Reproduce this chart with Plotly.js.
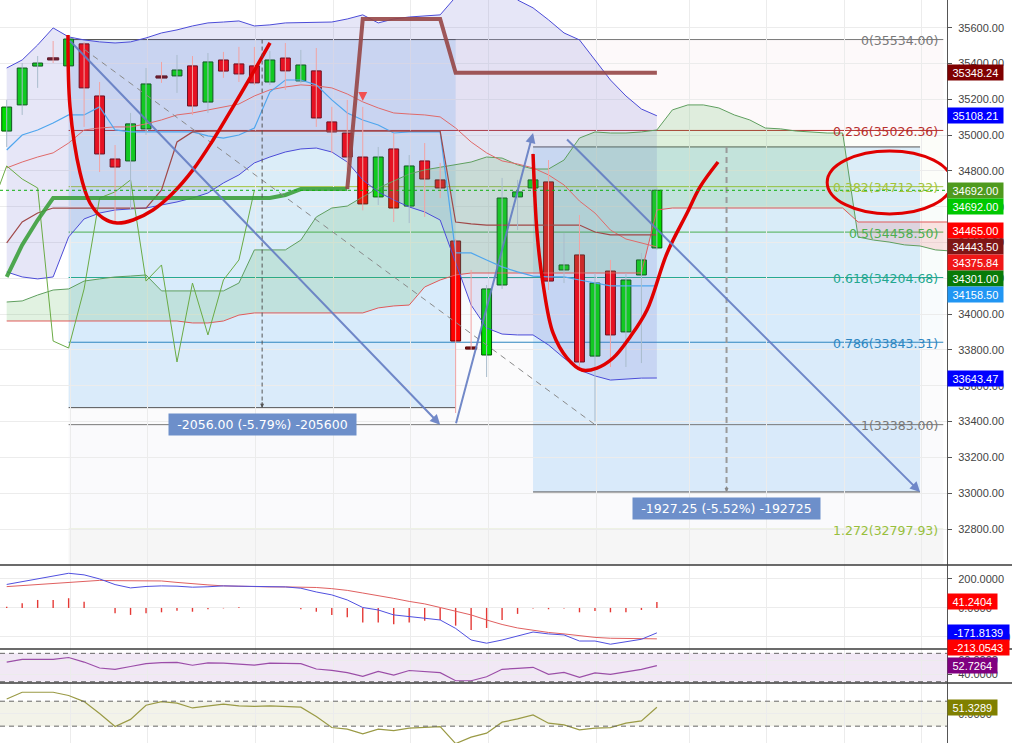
<!DOCTYPE html>
<html>
<head>
<meta charset="utf-8">
<script src="https://cdn.plot.ly/plotly-3.0.1.min.js"></script>
<style>
html,body{margin:0;padding:0;background:#ffffff;overflow:hidden;}
#chart{width:1012px;height:743px;}
</style>
</head>
<body>
<div id="chart"></div>
<script>
// ================= DATA =================
// OHLC candles (index 0..42)
const openP  = [35023,35169,35386,35426,35387,35510,35219,34867,34856,35035,35325,35331,35387,35185,35420,35398,35387,35297,35431,35303,35359,35074,35012,34878,34655,34923,34604,34856,34750,34409,33811,33772,34163,34655,34705,34739,34247,34331,33766,34241,33901,34219,34370];
const highP  = [35197,35403,35442,35526,35560,35520,35297,34945,35124,35375,35409,35448,35442,35459,35465,35493,35493,35470,35515,35476,35487,35158,35197,35158,34934,35012,34889,34956,34845,34420,34247,34163,34761,34750,34900,34861,34454,34554,34230,34303,34230,34342,34710];
const lowP   = [34934,35113,35264,35403,35330,35046,34794,34509,34582,35001,35292,35236,35113,35124,35320,35297,35280,35280,35253,35290,35046,34900,34806,34580,34610,34515,34509,34543,34649,33448,33800,33649,34141,34470,34655,34135,34174,33688,33400,33705,33705,33727,34360];
const closeP = [35157,35375,35403,35426,35537,35264,34895,34822,35063,35286,35325,35364,35163,35409,35358,35342,35292,35420,35359,35392,35096,35018,34878,34616,34878,34593,34828,34755,34705,33850,33811,34141,34649,34683,34750,34185,34275,33733,34174,33884,34191,34303,34692];

// Bollinger bands
const bbUpper = [35375,35420,35504,35599,35549,35532,35521,35515,35521,35543,35571,35588,35610,35627,35632,35638,35610,35616,35627,35630,35632,35632,35649,35672,35627,35649,35660,35666,35672,35772,35867,35923,35867,35755,35711,35644,35571,35532,35420,35308,35219,35146,35108.21];
const bbMid   = [34817,34850,34878,34901,34956,35029,35040,35046,35046,35063,35085,35113,35124,35141,35158,35174,35219,35253,35269,35281,35275,35264,35230,35186,35152,35124,35118,35113,35102,35040,34962,34901,34856,34839,34817,34778,34722,34632,34565,34470,34420,34398,34375.84];
const bbLower = [34236,34208,34197,34208,34431,34532,34565,34582,34588,34593,34610,34627,34649,34677,34733,34778,34845,34878,34906,34923,34928,34906,34850,34750,34683,34638,34599,34571,34526,34292,34051,33923,33889,33884,33884,33828,33755,33688,33655,33632,33638,33643,33643.47];

// Ichimoku lines
const convLine = [34917,35001,35029,35068,35113,35113,35158,35029,35018,35018,35018,35018,35018,34996,34984,35001,35040,35241,35308,35308,35281,35197,35124,35085,35057,35012,35018,35018,35018,34342,34342,34303,34264,34236,34213,34208,34208,34191,34174,34158.5,34158.5,34158.5,34158.5];
const baseLine = [34398,34515,34565,34593,34593,34593,34593,34593,34593,34593,34694,34962,35018,35023,35023,35023,35023,35023,35023,35023,35023,35023,35023,35023,35023,35023,35023,35023,35023,34515,34504,34498,34498,34498,34498,34498,34498,34498,34459,34443.5,34443.5,34443.5,34443.5];
// leading spans (index 0..61, projected ahead of last candle)
const spanA = [34068,34074,34107,34135,34141,34185,34197,34208,34213,34219,34130,34130,34130,34130,34130,34174,34359,34359,34359,34414,34543,34593,34604,34655,34705,34744,34783,34806,34822,34834,34850,34878,34872,34834,34811,34811,34861,34984,35018,35012,35012,35018,35029,35141,35169,35169,35152,35113,35085,35040,35035,35023,35018,35012,35012,34431,34414,34403,34387,34381,34359,34353];
const spanB = [33962,33962,33962,33962,33962,33962,33962,33962,33962,33962,33962,33962,33951,33951,33962,33995,34007,34007,34007,34007,34007,34007,34007,34007,34035,34046,34051,34152,34191,34219,34230,34230,34230,34230,34230,34230,34230,34230,34230,34230,34230,34230,34582,34593,34593,34593,34593,34593,34593,34593,34593,34593,34593,34593,34593,34515,34515,34515,34515,34515,34515,34515];
const chikouLag = 26;

// trailing stop line (thick) and its trend state
const trailStop  = [34208,34387,34526,34649,34649,34649,34649,34649,34649,34649,34649,34649,34649,34649,34649,34649,34649,34649,34666,34699,34699,34699,34699,35649,35649,35649,35649,35649,35649,35348.24,35348.24,35348.24,35348.24,35348.24,35348.24,35348.24,35348.24,35348.24,35348.24,35348.24,35348.24,35348.24,35348.24];
const trailTrend = ['up','up','up','up','up','up','up','up','up','up','up','up','up','up','up','up','up','up','up','up','up','up','up','dn','dn','dn','dn','dn','dn','dn','dn','dn','dn','dn','dn','dn','dn','dn','dn','dn','dn','dn','dn'];
const sellSignalIdx = [23];
const sellSignalPrice = [35191];

// MACD pane
const macdLine = [162,181,202,221,239,228,200,161,138,148,152,150,143,146,152,150,147,147,145,136,110,90,55,3,-14,-48,-62,-71,-83,-141,-221,-243,-221,-193,-166,-179,-186,-228,-228,-250,-232,-216,-171.8139];
const macdSignal = [147,155,162,169,174,183,190,188,188,186,186,176,170,159,152,148,147,145,145,143,141,133,121,103,86,66,45,28,3,-21,-48,-83,-114,-138,-155,-169,-179,-193,-203,-209,-209,-209,-213.0543];
const macdHist = [9,32,55,55,67,43,0,-37,-48,-37,-30,-19,-26,-9,-3,5,0,0,0,-9,-26,-48,-64,-101,-101,-112,-101,-88,-83,-122,-152,-138,-83,-41,-3,-9,-3,-30,-21,-30,-30,-14,41.2404];
// RSI pane
const rsiLine = [57.7,61.5,61.5,61.5,64.1,57.7,49.3,47.5,51.4,55.6,57.0,57.3,53.2,56.6,56.1,55.2,53.5,56.3,56.1,55.4,47.9,46.1,42.7,37.6,44.6,39.4,45.8,44.6,42.7,31.4,31.4,37.0,47.5,48.9,50.3,40.4,43.2,36.2,42.5,40.4,43.9,47.5,52.7264];
const rsiBands = [30, 70];
// CCI pane
const cciLine = [118,172,172,172,146,97,2,-103,-46,68,97,84,46,62,76,62,58,62,58,52,-23,-111,-124,-162,-124,-135,-116,-108,-103,-240,-188,-156,-68,-42,-10,-76,-90,-130,-116,-111,-76,-58,51.3289];
const cciBands = [-100, 100];

// Fibonacci retracement
const fibLevels = ['0','0.236','0.382','0.5','0.618','0.786','1','1.272'];
const fibPrices = [35534.00,35026.36,34712.32,34458.50,34204.68,33843.31,33383.00,32797.93];
const fibColors = ['#787878','#b8302e','#a3c43a','#4caf50','#22a78f','#2d86c0','#787878','#98bf3c'];
const fibFillColors = ['rgba(200,60,90,0.03)','rgba(160,196,58,0.03)','rgba(76,175,80,0.03)','rgba(34,167,143,0.03)','rgba(45,134,192,0.03)','rgba(120,120,150,0.03)','rgba(120,120,170,0.035)'];
const fibStartIdx = 4, fibEndIdx = 60.5;

// Date & price range measurements
const measStartIdx = [4, 34];
const measEndIdx   = [29, 59];
const measTop      = [35534.00, 34934.25];
const measBottom   = [33478.00, 33007.00];
const measText     = ['-2056.00 (-5.79%) -205600', '-1927.25 (-5.52%) -192725'];

// hand drawings
const curve1Idx = [3.96,4.09,4.74,5.38,6.22,7.13,8.16,9.45,10.74,12.03,13.33,14.62,15.91,17.01];
const curve1Px  = [35560,35158,34789,34621,34537,34509,34526,34582,34677,34806,34973,35158,35348,35515];
const curve2Idx = [34.0,34.26,34.64,35.29,36.2,37.16,38.13,39.17,40.27,41.36,42.66,43.95,44.79,45.95];
const curve2Px  = [34895,34454,34174,33895,33755,33688,33699,33755,33873,34023,34342,34565,34711,34850];
const arrowX0 = [4, 29, 36.1];
const arrowY0 = [35534, 33383, 34984];
const arrowX1 = [28, 34, 59];
const arrowY1 = [33383, 35012, 33007];
const trendIdx = [5, 38];
const trendPx  = [35480, 33383];
const ellipseIdx = [53, 61.06];
const ellipsePx  = [34560, 34912];

// right-hand price labels
const mainLabelVals = [35348.24, 35108.21, 34692.00, 34692.00, 34465.00, 34443.50, 34375.84, 34301.00, 34158.50, 33643.47];
const mainLabelCols = ['#7f0000','#0000ff','#4f9a1e','#00c800','#ff0000','#7f1616','#f01818','#087a08','#2196f3','#0000ff'];
const macdLabelVals = [41.2404, -171.8139, -213.0543];
const macdLabelCols = ['#ff0000','#0000ff','#ff0000'];
const rsiLabelVals = [52.7264];
const rsiLabelCols = ['#800080'];
const cciLabelVals = [51.3289];
const cciLabelCols = ['#808000'];

// ticks
const priceTicks = [32800,33000,33200,33400,33600,33800,34000,34200,34400,34600,34800,35000,35200,35400,35600];
const macdTicks = [-200, 0, 200];
const rsiTicks = [40, 60];
const cciTicks = [0];
const gridIdx = [4.1, 9.1, 16.1, 21.1, 26.1, 31.1, 38.1, 44.1, 49.1, 54.1, 59.1];

// ================= LAYOUT CONSTANTS =================
const W = 1012, H = 743;
const panes = { main:[0,565], macd:[565,649], rsi:[649,683], cci:[683,743] };
const ranges = { main:[32599,35755], macd:[-283,296], rsi:[28.2,76.1], cci:[-235,246] };
const dom = p => [1 - p[1]/H, 1 - p[0]/H];

const idx = closeP.map((_, i) => i);
const spanIdx = spanA.map((_, i) => i);
const base = {xaxis:'x', hoverinfo:'skip', showlegend:false};
const traces = [];
function addLine(x, y, color, width, yaxis, extra) {
  traces.push(Object.assign({type:'scatter', mode:'lines', x, y, yaxis: yaxis || 'y',
    line:{color, width}}, base, extra || {}));
}

// Bollinger fill
addLine(idx, bbLower, 'rgba(0,0,0,0)', 0);
addLine(idx, bbUpper, 'rgba(0,0,0,0)', 0, 'y', {fill:'tonexty', fillcolor:'rgba(105,105,205,0.17)'});

// Ichimoku cloud fill (split at crossings)
(function () {
  const xs = [], b = [], hi = [], lo = [];
  for (let i = 0; i < spanA.length; i++) {
    if (i > 0) {
      const d0 = spanA[i-1] - spanB[i-1], d1 = spanA[i] - spanB[i];
      if (d0 * d1 < 0) {
        const t = d0 / (d0 - d1);
        const yc = spanB[i-1] + t * (spanB[i] - spanB[i-1]);
        xs.push(i - 1 + t); b.push(yc); hi.push(yc); lo.push(yc);
      }
    }
    xs.push(i); b.push(spanB[i]);
    hi.push(Math.max(spanA[i], spanB[i])); lo.push(Math.min(spanA[i], spanB[i]));
  }
  addLine(xs, b, 'rgba(0,0,0,0)', 0);
  addLine(xs, hi, 'rgba(0,0,0,0)', 0, 'y', {fill:'tonexty', fillcolor:'rgba(76,175,80,0.17)'});
  addLine(xs, b, 'rgba(0,0,0,0)', 0);
  addLine(xs, lo, 'rgba(0,0,0,0)', 0, 'y', {fill:'tonexty', fillcolor:'rgba(240,80,80,0.15)'});
})();

// indicator lines
addLine(spanIdx, spanA, '#5f9f5f', 1);
addLine(spanIdx, spanB, '#e05a5a', 1);
addLine(idx, bbUpper, '#4c4cd8', 1);
addLine(idx, bbLower, '#4c4cd8', 1);
addLine(idx, bbMid, '#e06a6a', 1);
addLine(idx, convLine, '#4fa6ee', 1.2);
addLine(idx, baseLine, '#a04848', 1.2);
// chikou span : close shifted back
(function () {
  const cx = [], cy = [];
  for (let i = chikouLag - 1; i < closeP.length; i++) { cx.push(i - chikouLag); cy.push(closeP[i]); }
  addLine(cx, cy, '#6aab45', 1);
})();

// candle wicks
function wicks(kind, color) {
  const x = [], y = [];
  idx.forEach(i => {
    const k = closeP[i] > openP[i] ? 'up' : (closeP[i] < openP[i] ? 'dn' : 'flat');
    if (k === kind || (kind === 'dn' && k === 'flat')) { x.push(i, i, null); y.push(lowP[i], highP[i], null); }
  });
  addLine(x, y, color, 1);
}
wicks('dn', '#f2a3a3');
wicks('up', '#a9bccc');
function bodies(kind, fill, edge) {
  const x = [], bs = [], h = [];
  idx.forEach(i => {
    const k = closeP[i] > openP[i] ? 'up' : (closeP[i] < openP[i] ? 'dn' : 'flat');
    if (k !== kind) return;
    x.push(i);
    if (k === 'flat') { bs.push(closeP[i] - 6); h.push(12); }
    else { bs.push(Math.min(openP[i], closeP[i])); h.push(Math.abs(closeP[i] - openP[i])); }
  });
  traces.push(Object.assign({type:'bar', x, y:h, base:bs, yaxis:'y', width: kind === 'flat' ? 0.72 : 0.64,
    marker:{color:fill, line:{color:edge, width:1}}}, base));
}
bodies('dn', '#ff0000', '#6b0000');
bodies('up', '#00dd00', '#005200');
bodies('flat', '#7a1212', '#5a0808');

// thick trailing stop
(function () {
  const gx = [], gy = [], rx = [], ry = [];
  idx.forEach(i => {
    if (trailTrend[i] === 'up') { gx.push(i); gy.push(trailStop[i]); }
    else { if (rx.length === 0 && i > 0) { rx.push(i - 1); ry.push(trailStop[i - 1]); } rx.push(i); ry.push(trailStop[i]); }
  });
  addLine(gx, gy, 'rgba(60,160,60,0.9)', 4);
  addLine(rx, ry, 'rgba(150,70,70,0.9)', 4);
})();

// drawings
addLine(trendIdx, trendPx, '#8a8a8a', 1, 'y', {line:{color:'#8a8a8a', width:1, dash:'6px,5px'}});
addLine(curve1Idx, curve1Px, '#e00000', 3.5, 'y', {line:{color:'#e00000', width:3.5, shape:'spline'}});
addLine(curve2Idx, curve2Px, '#e00000', 3.5, 'y', {line:{color:'#e00000', width:3.5, shape:'spline'}});
traces.push(Object.assign({type:'scatter', mode:'markers', x:sellSignalIdx, y:sellSignalPrice, yaxis:'y',
  marker:{symbol:'arrow-down', size:9, color:'#f25050'}}, base));

// MACD pane
traces.push(Object.assign({type:'bar', x:idx, y:macdHist, yaxis:'y2', width:0.09,
  marker:{color:'#e53935', line:{width:0}}}, base));
addLine(idx, macdSignal, '#e06060', 1, 'y2');
addLine(idx, macdLine, '#5050e0', 1, 'y2');
// RSI & CCI
addLine(idx, rsiLine, '#9b4ea8', 1.2, 'y3');
addLine(idx, cciLine, '#9a9a45', 1.2, 'y4');

// ================= SHAPES =================
const shapes = [];
const xr0 = -0.4328, xr1 = 60.74;
// fib backgrounds
for (let k = 0; k < fibPrices.length - 1; k++) {
  shapes.push({type:'rect', layer:'below', xref:'x', yref:'y', x0:fibStartIdx, x1:fibEndIdx,
    y0:fibPrices[k+1], y1:fibPrices[k], fillcolor:fibFillColors[k], line:{width:0}});
}
shapes.push({type:'rect', layer:'below', xref:'x', yref:'y', x0:fibStartIdx, x1:fibEndIdx,
  y0:ranges.main[0], y1:fibPrices[fibPrices.length-1], fillcolor:'rgba(130,130,130,0.075)', line:{width:0}});
// measurement rectangles
measStartIdx.forEach((s, m) => {
  shapes.push({type:'rect', layer:'below', xref:'x', yref:'y', x0:s, x1:measEndIdx[m],
    y0:measBottom[m], y1:measTop[m], fillcolor:'rgba(33,150,243,0.15)', line:{width:0}});
});
// fib lines
fibPrices.forEach((p, k) => {
  shapes.push({type:'line', layer:'below', xref:'x', yref:'y', x0:fibStartIdx, x1:fibEndIdx, y0:p, y1:p,
    line:{color:fibColors[k], width:1}});
});
// measurement borders
measStartIdx.forEach((s, m) => {
  shapes.push({type:'line', layer:'below', xref:'x', yref:'y', x0:s, x1:measEndIdx[m], y0:measBottom[m], y1:measBottom[m],
    line:{color:'#555', width:1}});
  shapes.push({type:'line', layer:'below', xref:'x', yref:'y', x0:s, x1:measEndIdx[m], y0:measTop[m], y1:measTop[m],
    line:{color:'#555', width:1}});
  const mid = (s + measEndIdx[m]) / 2;
  shapes.push({type:'line', layer:'above', xref:'x', yref:'y', x0:mid, x1:mid, y0:measTop[m], y1:measBottom[m],
    line:{color: m === 0 ? '#555' : '#999', width: m === 0 ? 1 : 2, dash: m === 0 ? '4px,3px' : '6px,4px'}});
});
// current price dotted line
shapes.push({type:'line', layer:'above', xref:'x', yref:'y', x0:xr0, x1:xr1,
  y0:closeP[closeP.length-1], y1:closeP[closeP.length-1], line:{color:'#10b010', width:1, dash:'dot'}});
// ellipse
shapes.push({type:'circle', layer:'above', xref:'x', yref:'y', x0:ellipseIdx[0], x1:ellipseIdx[1],
  y0:ellipsePx[0], y1:ellipsePx[1], line:{color:'#e00000', width:3}});
// RSI & CCI bands
shapes.push({type:'rect', layer:'below', xref:'x', yref:'y3', x0:xr0, x1:xr1, y0:rsiBands[0], y1:rsiBands[1],
  fillcolor:'rgba(150,80,175,0.13)', line:{width:0}});
shapes.push({type:'rect', layer:'below', xref:'x', yref:'y4', x0:xr0, x1:xr1, y0:cciBands[0], y1:cciBands[1],
  fillcolor:'rgba(140,140,40,0.10)', line:{width:0}});
[['y3', rsiBands], ['y4', cciBands]].forEach(([ya, bands]) => bands.forEach(v => {
  shapes.push({type:'line', layer:'above', xref:'x', yref:ya, x0:xr0, x1:xr1, y0:v, y1:v,
    line:{color:'#666', width:1, dash:'5px,4px'}});
}));
// pane separators
[panes.macd[0], panes.rsi[0], panes.cci[0]].forEach(py => {
  shapes.push({type:'line', layer:'above', xref:'paper', yref:'paper', x0:0, x1:W/947, y0:1-py/H, y1:1-py/H,
    line:{color:'#3a3a3a', width:1.3}});
});

// ================= ANNOTATIONS =================
const annotations = [];
// fib labels
fibPrices.forEach((p, k) => {
  annotations.push({xref:'x', yref:'y', x:fibEndIdx, y:p, xanchor:'right', yanchor:'middle', xshift:-3, yshift:-1,
    text: fibLevels[k] + '(' + p.toFixed(2) + ')', showarrow:false,
    font:{family:'DejaVu Sans, Verdana, sans-serif', size:12.5, color:fibColors[k]}});
});
// measurement labels
measStartIdx.forEach((s, m) => {
  const mid = (s + measEndIdx[m]) / 2;
  annotations.push({xref:'x', yref:'y', x:mid, y:measBottom[m], yanchor:'middle', xanchor:'center', yshift:-17,
    text:measText[m], showarrow:false, bgcolor:'#6d8fca', borderpad:3, width:181, height:15,
    font:{family:'DejaVu Sans, Verdana, sans-serif', size:12.5, color:'#ffffff'}});
  annotations.push({xref:'x', yref:'y', x:mid, y:measBottom[m], ax:0, ay:-7, text:'', showarrow:true,
    arrowhead:2, arrowsize:0.8, arrowwidth:1, arrowcolor: m === 0 ? '#555' : '#888', standoff:0});
});
// blue arrows
arrowX0.forEach((x0, a) => {
  annotations.push({xref:'x', yref:'y', axref:'x', ayref:'y', x:arrowX1[a], y:arrowY1[a], ax:x0, ay:arrowY0[a],
    text:'', showarrow:true, arrowhead:2, arrowsize:1, arrowwidth:2, arrowcolor:'rgba(100,125,195,0.9)', standoff:0});
});
// right price labels with push-down
function priceLabels(vals, cols, yref, rng, pane, gap, fmt) {
  const pxPer = (pane[1] - pane[0]) / (rng[1] - rng[0]);
  const order = vals.map((v, i) => i).sort((a, b) => vals[b] - vals[a]);
  let prev = -1e9;
  order.forEach(i => {
    const nat = (rng[1] - vals[i]) * pxPer;
    const px = Math.max(nat, prev + gap);
    prev = px;
    const txt = vals[i].toFixed(fmt);
    annotations.push({xref:'paper', yref, x:1, y:vals[i], xanchor:'left', yanchor:'middle', xshift:0,
      yshift: -(px - nat), text:txt, showarrow:false, bgcolor:cols[i], borderpad:1,
      width: txt.length * 6.1 + 4, height:13, align:'center',
      font:{family:'Liberation Sans, Arial, sans-serif', size:11, color:'#ffffff'}});
  });
}
priceLabels(mainLabelVals, mainLabelCols, 'y', ranges.main, panes.main, 16, 2);
priceLabels(macdLabelVals, macdLabelCols, 'y2', ranges.macd, panes.macd, 15, 4);
priceLabels(rsiLabelVals, rsiLabelCols, 'y3', ranges.rsi, panes.rsi, 15, 4);
priceLabels(cciLabelVals, cciLabelCols, 'y4', ranges.cci, panes.cci, 15, 4);

// ================= AXES =================
const tickFont = {family:'Liberation Sans, Arial, sans-serif', size:11, color:'#444'};
function yAx(pane, rng, ticks, fmt, grid) {
  return {domain:dom(pane), range:rng, side:'right', anchor:'x', tickmode:'array', tickvals:ticks,
    tickformat:fmt, showgrid:grid, gridcolor:'#ececec', zeroline:false, showline:true, linecolor:'#555', linewidth:1,
    ticks:'outside', ticklen:4, tickcolor:'#555', tickfont:tickFont, ticklabelstandoff:4, fixedrange:true};
}
const layout = {
  width:W, height:H, margin:{l:0, r:W-947, t:0, b:0}, paper_bgcolor:'#ffffff', plot_bgcolor:'#ffffff',
  showlegend:false, hovermode:false, barmode:'overlay', dragmode:false,
  xaxis:{domain:[0,1], range:[xr0, xr1], tickmode:'array', tickvals:gridIdx, showticklabels:false, ticks:'',
    showgrid:true, gridcolor:'#ececec', zeroline:false, showline:false, anchor:'y4', fixedrange:true},
  yaxis: yAx(panes.main, ranges.main, priceTicks, '.2f', true),
  yaxis2: yAx(panes.macd, ranges.macd, macdTicks, '.4f', true),
  yaxis3: yAx(panes.rsi, ranges.rsi, rsiTicks, '.4f', true),
  yaxis4: yAx(panes.cci, ranges.cci, cciTicks, '.4f', true),
  shapes, annotations
};
Plotly.newPlot('chart', traces, layout, {staticPlot:true, displayModeBar:false});
</script>
</body>
</html>
